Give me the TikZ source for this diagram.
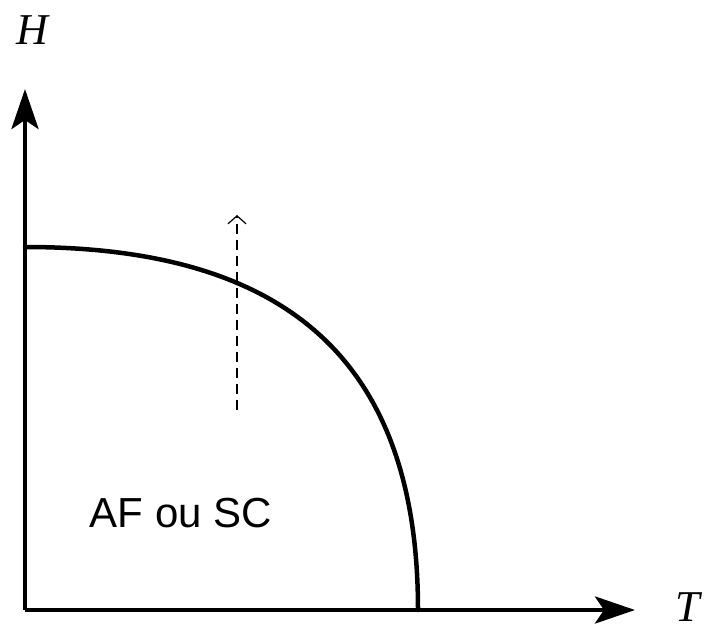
\documentclass[tikz,border=0pt]{standalone}
\usepackage{fontspec}
\setmainfont{Liberation Serif}
\setsansfont{Liberation Sans}
\usetikzlibrary{arrows.meta}
\begin{document}
\begin{tikzpicture}[x=1pt, y=1pt, line cap=round, line join=round]
    \useasboundingbox (0,0) rectangle (711,630);
    % axes
    \coordinate (origin) at (25,20);
    \coordinate (hmax) at (25,541);
    \coordinate (tmax) at (635,20);
    \draw[line width=4.5pt,line cap=butt,-{Stealth[length=40pt,width=27pt,inset=9pt]}] (origin) -- (hmax);
    \draw[line width=4.5pt,line cap=butt,-{Stealth[length=40pt,width=27pt,inset=9pt]}] (origin) -- (tmax);
    \node[inner sep=0pt,font=\fontsize{44}{50}\selectfont\itshape] (hlabel) at (32,600) {H};
    \node[inner sep=0pt,font=\fontsize{44}{50}\selectfont\itshape] (tlabel) at (688,23) {T};
    % phase boundary
    \coordinate (hc) at (25,383);
    \coordinate (tc) at (418,20);
    \draw[line width=4.5pt] (hc) .. controls (275,383) and (418,280) .. (tc);
    % field sweep
    \coordinate (dlow) at (237,220);
    \coordinate (dhigh) at (237,415);
    \draw[line width=1.8pt,dash pattern=on 10pt off 6pt,line cap=butt,-{Straight Barb[length=8pt,width=18pt,line width=1.2pt]}] (dlow) -- (dhigh);
    \node[font=\sffamily\fontsize{42}{48}\selectfont] (phase) at (181,117) {AF ou SC};
\end{tikzpicture}
\end{document}
